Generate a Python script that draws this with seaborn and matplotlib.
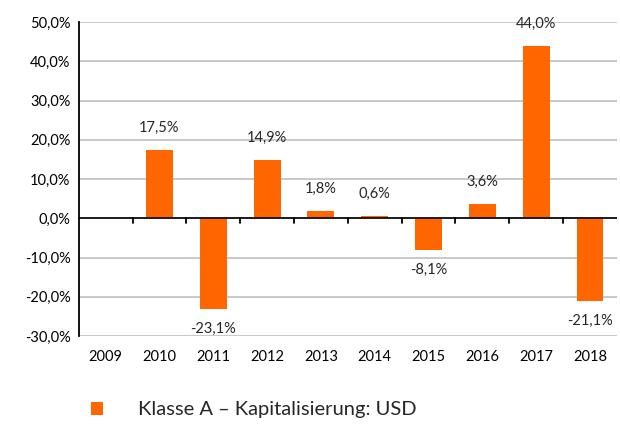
import numpy as np
import pandas as pd
import seaborn as sns
from matplotlib import pyplot as plt
from matplotlib.ticker import FuncFormatter

years = ["2009", "2010", "2011", "2012", "2013", "2014", "2015", "2016", "2017", "2018"]
returns = [np.nan, 17.5, -23.1, 14.9, 1.8, 0.6, -8.1, 3.6, 44.0, -21.1]
series_name = "Klasse A – Kapitalisierung: USD"

sns.set_style("white")
plt.rcParams['font.family'] = ['Lato', 'DejaVu Sans']

df = pd.DataFrame({'year': years, 'ret': returns})

fig = plt.figure(figsize=(6.2, 4.26), dpi=100)
ax = fig.add_axes([0.127, 0.211, 0.868, 0.737])

sns.barplot(data=df, x='year', y='ret', color='#FF6600', saturation=1,
            width=0.5, label=series_name, ax=ax, zorder=2, linewidth=0)

ax.set_ylim(-30, 50)
ax.set_yticks(range(-30, 51, 10))
ax.yaxis.set_major_formatter(FuncFormatter(lambda v, p: f"{v:.1f}%".replace('.', ',')))
ax.yaxis.grid(True, color='#BFBFBF', linewidth=1.2)
ax.set_axisbelow(True)
ax.set_xlabel("")
ax.set_ylabel("")
ax.set_xlim(-0.5, len(years) - 0.5)

for s in ['top', 'right', 'bottom']:
    ax.spines[s].set_visible(False)
ax.spines['left'].set_color('black')
ax.spines['left'].set_linewidth(1.3)

# zero line with tick marks between categories
ax.axhline(0, color='black', linewidth=1.2, zorder=3)
ax.tick_params(axis='x', length=0, pad=10, labelsize=10.5, labelcolor='black')
ax.tick_params(axis='y', length=0, pad=6, labelsize=10.5, labelcolor='black')
for b in np.arange(0.5, len(years) - 0.5, 1.0):
    ax.plot([b, b], [0, -1.1], color='black', linewidth=1.3, zorder=3, clip_on=False)

for i, v in enumerate(returns):
    if np.isnan(v):
        continue
    txt = f"{v:.1f}%".replace('.', ',')
    if v >= 0:
        ax.annotate(txt, (i, v), xytext=(0, 11), textcoords='offset points',
                    ha='center', va='bottom', fontsize=10.5)
    else:
        ax.annotate(txt, (i, v), xytext=(0, -9), textcoords='offset points',
                    ha='center', va='top', fontsize=10.5)

if ax.legend_:
    ax.legend_.remove()
handles, labels = ax.get_legend_handles_labels()
fig.legend(handles, labels, loc='center left', bbox_to_anchor=(0.118, 0.038),
           frameon=False, fontsize=14.5, handlelength=0.6, handleheight=0.6,
           handletextpad=1.7)

fig.savefig("out.png", dpi=100)
